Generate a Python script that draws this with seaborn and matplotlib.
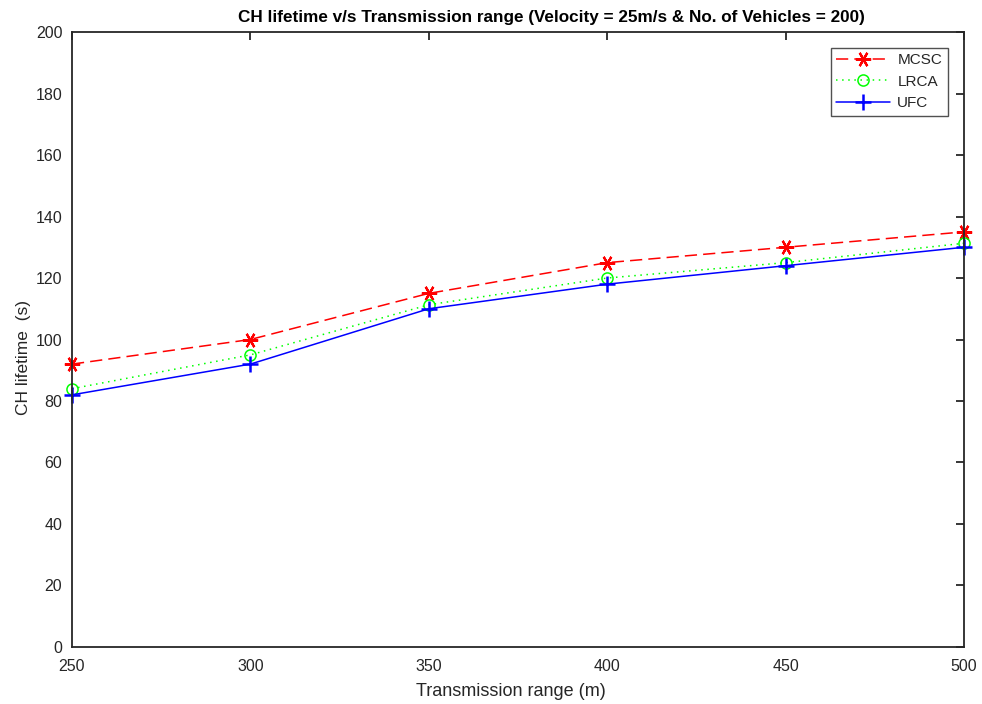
import matplotlib
matplotlib.use("Agg")
import matplotlib.pyplot as plt
import seaborn as sns
import pandas as pd

x_range = [250, 300, 350, 400, 450, 500]
mcsc = [92, 100, 115, 125, 130, 135]
lrca = [84, 95, 111.3, 120, 125, 131.3]
ufc = [82, 92, 110, 118, 124, 130]
y_ticks = list(range(0, 201, 20))

sns.set_theme(style="white")
plt.rcParams['font.family'] = ['Liberation Sans', 'DejaVu Sans']

fig = plt.figure(figsize=(9.82, 7.04), dpi=100)
ax = fig.add_axes([0.0733, 0.081, 0.9084, 0.8735])

df = pd.DataFrame({"x": x_range * 3,
                   "y": mcsc + lrca + ufc,
                   "s": ["MCSC"] * 6 + ["LRCA"] * 6 + ["UFC"] * 6})

styles = {
    "MCSC": dict(color="#ff0000", linestyle=(0, (8, 4)), marker=(6, 2, 30), ms=11, mfc="#ff0000", mew=1.6),
    "LRCA": dict(color="#00ff00", linestyle=(0, (1, 3)), marker="o", ms=8, mfc="none", mew=1.1),
    "UFC": dict(color="#0000ff", linestyle="-", marker="+", ms=11, mew=1.8),
}
for name in ["MCSC", "LRCA", "UFC"]:
    sub = df[df.s == name]
    st = styles[name]
    sns.lineplot(data=sub, x="x", y="y", ax=ax, color=st["color"], linewidth=1.1,
                 label=name, legend=False)
    line = ax.lines[-1]
    line.set_linestyle(st["linestyle"])
    line.set_marker(st["marker"])
    line.set_markersize(st["ms"])
    line.set_markeredgecolor(st["color"])
    line.set_markerfacecolor(st.get("mfc", st["color"]))
    line.set_markeredgewidth(st["mew"])
    line.set_clip_on(False)

ax.set_xlim(250, 500)
ax.set_ylim(0, 200)
ax.set_xticks(x_range)
ax.set_yticks(y_ticks)
ax.tick_params(direction="in", length=6, width=1.3, top=True, right=True,
               labelsize=11.5, colors="#262626")
ax.tick_params(axis="x", pad=9)
ax.tick_params(axis="y", pad=7)
for sp in ax.spines.values():
    sp.set_color("#262626")
    sp.set_linewidth(1.3)
    sp.set_visible(True)

ax.set_xlabel("Transmission range (m)", fontsize=13, color="#262626")
ax.xaxis.set_label_coords(0.492, -0.058)
ax.set_ylabel("CH lifetime  (s)", fontsize=12.5, color="#262626")
ax.yaxis.set_label_coords(-0.046, 0.47)
ax.set_title("CH lifetime v/s Transmission range (Velocity = 25m/s & No. of Vehicles = 200)",
             fontsize=12.3, fontweight="bold", color="black", pad=7, x=0.537)

leg = ax.legend(loc="upper right", bbox_to_anchor=(0.9815, 0.9745), fontsize=11,
                frameon=True, fancybox=False, edgecolor="#262626", handlelength=3.5,
                borderpad=0.35, labelspacing=0.5, handletextpad=0.5, borderaxespad=0.0)
leg.get_frame().set_linewidth(1.0)

fig.savefig("out.png", dpi=100)
